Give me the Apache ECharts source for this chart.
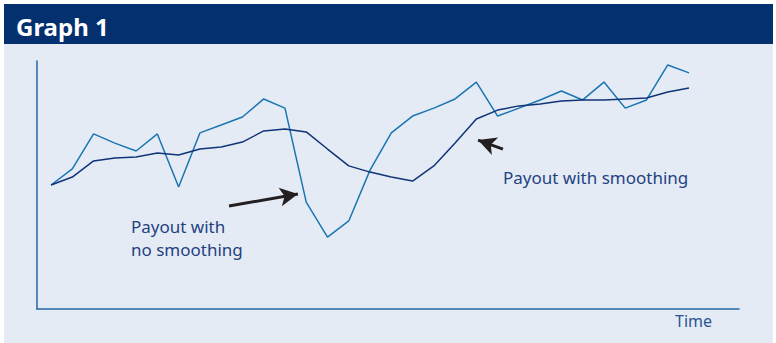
<!DOCTYPE html>
<html>
<head>
<meta charset="utf-8">
<script src="https://cdn.jsdelivr.net/npm/echarts@6/dist/echarts.min.js"></script>
<style>
  html, body { margin: 0; padding: 0; background: #ffffff; }
  #chart { width: 776px; height: 343px; }
</style>
</head>
<body>
<div id="chart"></div>
<script>
// Time periods (31 observations)
const periods = Array.from({length: 31}, (_, i) => i);
// Payout with no smoothing (arbitrary units)
const payoutNoSmoothing = [50.0, 56.5, 70.6, 66.9, 63.7, 70.6, 49.2, 71.0, 74.2, 77.4, 84.7, 81.0, 43.1, 29.0, 35.5, 56.0, 71.0, 77.8, 81.0, 84.7, 91.5, 77.8, 81.0, 84.3, 87.9, 84.3, 91.5, 81.0, 84.3, 98.4, 95.2];
// Payout with smoothing
const payoutSmoothing = [50.0, 53.2, 59.7, 60.9, 61.3, 62.9, 62.1, 64.5, 65.3, 67.3, 71.8, 72.6, 71.4, 64.5, 57.7, 55.2, 53.2, 51.6, 57.7, 66.9, 76.6, 80.2, 81.9, 82.7, 83.9, 84.3, 84.3, 84.7, 85.1, 87.5, 89.1];
// Annotation arrows in data coordinates [from, to]
const arrowNoSmoothing = [[8.37, 41.5], [11.61, 46.4]];
const arrowSmoothing = [[21.25, 64.5], [20.08, 68.1]];
const xAxisTitle = 'Time';
const chartTitle = 'Graph 1';

const chart = echarts.init(document.getElementById('chart'), null, {renderer: 'svg'});
const font = '"Noto Sans", "Open Sans", sans-serif';

chart.setOption({
  animation: false,
  backgroundColor: '#ffffff',
  grid: {left: 37, right: 37, top: 61, bottom: 34},
  xAxis: {
    type: 'value', min: -0.66, max: 32.35,
    axisLine: {show: true, onZero: false, lineStyle: {color: '#2368a6', width: 1.5}},
    axisTick: {show: false}, axisLabel: {show: false}, splitLine: {show: false}
  },
  yAxis: {
    type: 'value', min: 0, max: 100,
    axisLine: {show: true, onZero: false, lineStyle: {color: '#2368a6', width: 1.5}},
    axisTick: {show: false}, axisLabel: {show: false}, splitLine: {show: false}
  },
  graphic: [
    {type: 'rect', z: -20, silent: true, shape: {x: 4, y: 4, width: 769, height: 339}, style: {fill: '#e4ebf5'}},
    {type: 'rect', z: -19, silent: true, shape: {x: 4, y: 4, width: 769, height: 40}, style: {fill: '#04306f'}},
    {type: 'text', z: 10, x: 16, y: 26, style: {text: chartTitle, fill: '#ffffff', font: 'bold 24px ' + font, verticalAlign: 'middle', align: 'left'}},
    {type: 'text', z: 10, x: 131, y: 226, style: {text: 'Payout with', fill: '#1f4281', font: '17px ' + font, verticalAlign: 'middle', align: 'left'}},
    {type: 'text', z: 10, x: 131, y: 249, style: {text: 'no smoothing', fill: '#1f4281', font: '17px ' + font, verticalAlign: 'middle', align: 'left'}},
    {type: 'text', z: 10, x: 503, y: 177, style: {text: 'Payout with smoothing', fill: '#1f4281', font: '17px ' + font, verticalAlign: 'middle', align: 'left'}},
    {type: 'text', z: 10, x: 675, y: 321, style: {text: xAxisTitle, fill: '#2b5592', font: '16px ' + font, verticalAlign: 'middle', align: 'left'}}
  ],
  series: [
    {
      name: 'Payout with no smoothing', type: 'line',
      data: periods.map((p, i) => [p, payoutNoSmoothing[i]]),
      symbol: 'none', lineStyle: {color: '#1a76b3', width: 1.5}
    },
    {
      name: 'Payout with smoothing', type: 'line',
      data: periods.map((p, i) => [p, payoutSmoothing[i]]),
      symbol: 'none', lineStyle: {color: '#0f3478', width: 1.5},
      markLine: {
        silent: true, animation: false,
        symbol: ['none', 'arrow'], symbolSize: [14, 18],
        label: {show: false},
        lineStyle: {color: '#231f20', width: 3, type: 'solid'},
        data: [
          [{coord: arrowNoSmoothing[0]}, {coord: arrowNoSmoothing[1]}],
          [{coord: arrowSmoothing[0]}, {coord: arrowSmoothing[1]}]
        ]
      }
    }
  ]
});
</script>
</body>
</html>
